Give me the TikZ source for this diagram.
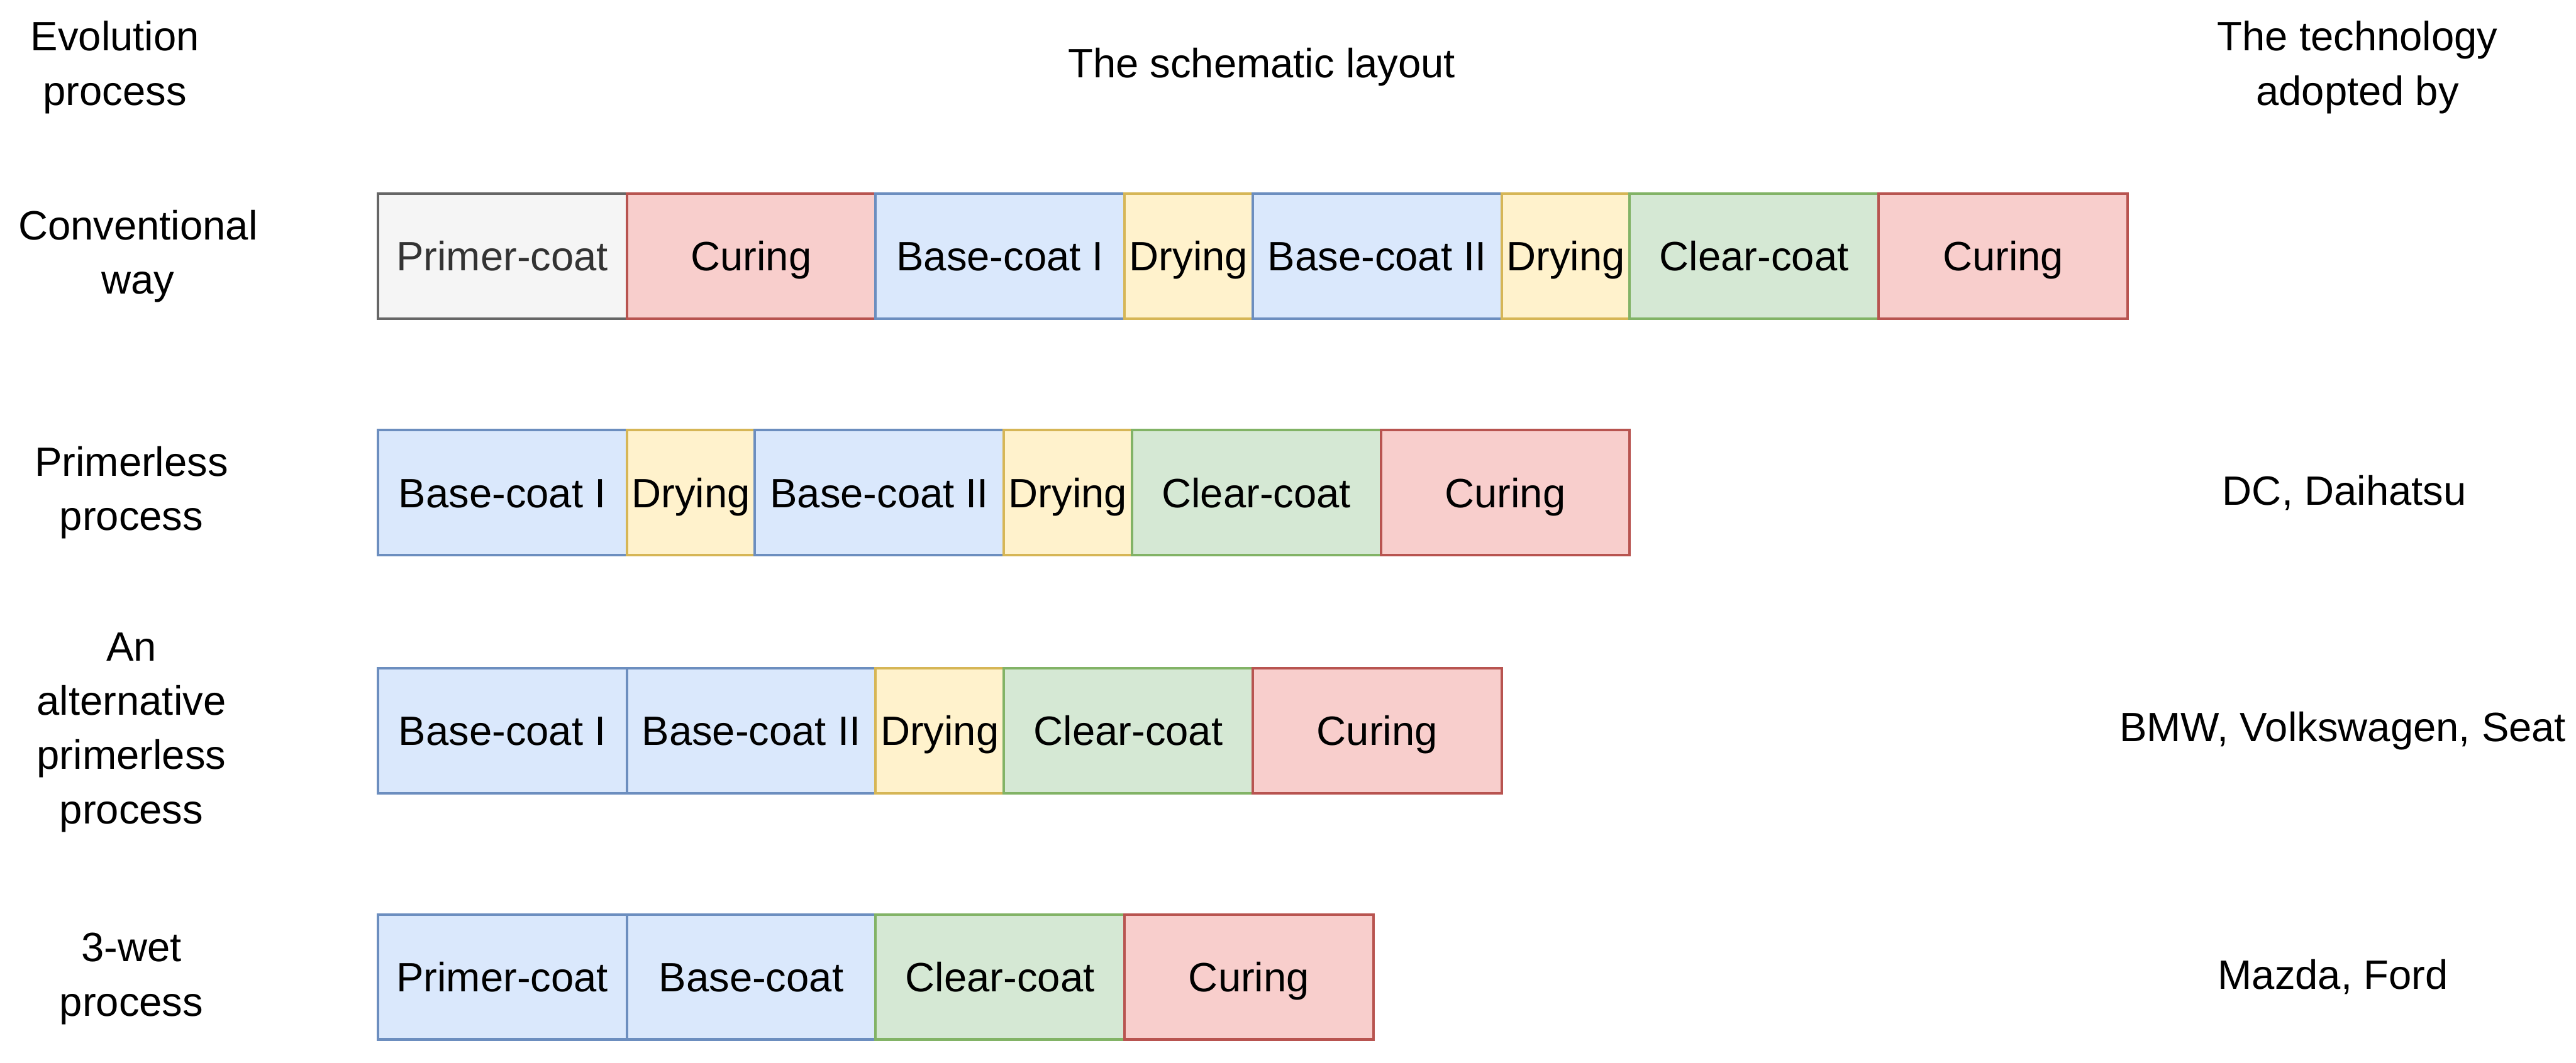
\documentclass[tikz,border=0pt]{standalone}
\usepackage{fontspec}
\setmainfont{Liberation Sans}
\usetikzlibrary{positioning}

\definecolor{greyfill}{HTML}{F5F5F5}
\definecolor{greyline}{HTML}{666666}
\definecolor{greytext}{HTML}{333333}
\definecolor{bluefill}{HTML}{DAE8FC}
\definecolor{blueline}{HTML}{6C8EBF}
\definecolor{yellowfill}{HTML}{FFF2CC}
\definecolor{yellowline}{HTML}{D6B656}
\definecolor{greenfill}{HTML}{D5E8D4}
\definecolor{greenline}{HTML}{82B366}
\definecolor{redfill}{HTML}{F8CECC}
\definecolor{redline}{HTML}{B85450}

\begin{document}
\begin{tikzpicture}[
    line width=0.45pt,
    every node/.style={font=\fontsize{7.1}{9.4}\selectfont, inner sep=0pt, outer sep=0pt, align=center},
    stage/.style={draw, minimum height=7.6mm, minimum width=15.15mm, text height=1.8mm, text depth=0mm},
    short/.style={stage, minimum width=7.8mm},
    primer/.style={fill=greyfill, draw=greyline, text=greytext},
    base/.style={fill=bluefill, draw=blueline},
    dry/.style={short, fill=yellowfill, draw=yellowline},
    clear/.style={fill=greenfill, draw=greenline},
    cure/.style={fill=redfill, draw=redline}
]
  \useasboundingbox (0,0) rectangle (15.68,6.47);

  % headings
  \node (hEvo)  at (0.70,6.06)  {Evolution\\process};
  \node (hLay)  at (7.68,6.06)  {The schematic layout};
  \node (hTech) at (14.35,6.06) {The technology\\adopted by};

  % conventional way
  \node (lConv) at (0.84,4.91) {Conventional\\way};
  \node[stage, primer, anchor=west] (c1) at (2.30,4.91) {Primer-coat};
  \node[stage, cure, right=0pt of c1]  (c2) {Curing};
  \node[stage, base, right=0pt of c2]  (c3) {Base-coat I};
  \node[dry, right=0pt of c3]          (c4) {Drying};
  \node[stage, base, right=0pt of c4]  (c5) {Base-coat II};
  \node[dry, right=0pt of c5]          (c6) {Drying};
  \node[stage, clear, right=0pt of c6] (c7) {Clear-coat};
  \node[stage, cure, right=0pt of c7]  (c8) {Curing};

  % primerless process
  \node (lPless) at (0.80,3.47) {Primerless\\process};
  \node[stage, base, anchor=west] (p1) at (2.30,3.47) {Base-coat I};
  \node[dry, right=0pt of p1]          (p2) {Drying};
  \node[stage, base, right=0pt of p2]  (p3) {Base-coat II};
  \node[dry, right=0pt of p3]          (p4) {Drying};
  \node[stage, clear, right=0pt of p4] (p5) {Clear-coat};
  \node[stage, cure, right=0pt of p5]  (p6) {Curing};
  \node (tPless) at (14.27,3.47) {DC, Daihatsu};

  % alternative primerless process
  \node (lAlt) at (0.80,2.01) {An\\alternative\\primerless\\process};
  \node[stage, base, anchor=west] (a1) at (2.30,2.02) {Base-coat I};
  \node[stage, base, right=0pt of a1]  (a2) {Base-coat II};
  \node[dry, right=0pt of a2]          (a3) {Drying};
  \node[stage, clear, right=0pt of a3] (a4) {Clear-coat};
  \node[stage, cure, right=0pt of a4]  (a5) {Curing};
  \node (tAlt) at (14.26,2.02) {BMW, Volkswagen, Seat};

  % 3-wet process
  \node (lWet) at (0.80,0.51) {3-wet\\process};
  \node[stage, base, anchor=west] (w1) at (2.30,0.52) {Primer-coat};
  \node[stage, base, right=0pt of w1]  (w2) {Base-coat};
  \node[stage, clear, right=0pt of w2] (w3) {Clear-coat};
  \node[stage, cure, right=0pt of w3]  (w4) {Curing};
  \node (tWet) at (14.20,0.52) {Mazda, Ford};
\end{tikzpicture}
\end{document}
